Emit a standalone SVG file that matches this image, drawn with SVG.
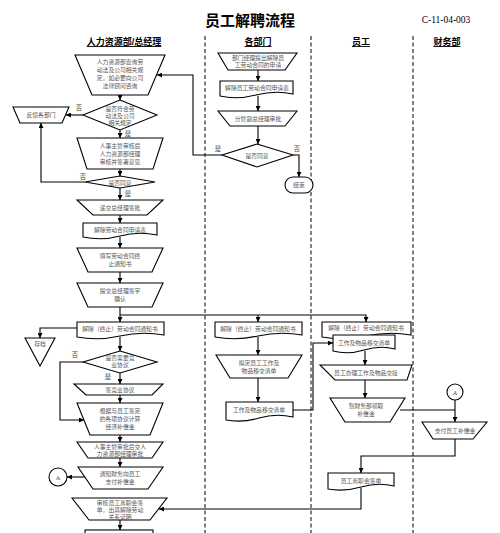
<svg xmlns="http://www.w3.org/2000/svg" width="500" height="533" viewBox="0 0 500 533">
<style>
.s{fill:#fff;stroke:#000;stroke-width:1.1}
.t{font-family:"Liberation Serif","Noto Sans CJK SC",serif;font-size:5.8px;fill:#555;text-anchor:middle}
.l{font-family:"Liberation Serif","Noto Sans CJK SC",serif;font-size:6.3px;fill:#444;text-anchor:middle}
.h{font-family:"Liberation Sans","Noto Sans CJK SC",sans-serif;font-size:9px;font-weight:bold;fill:#000;text-anchor:middle;text-decoration:underline}
.c{fill:none;stroke:#000;stroke-width:1.1}
.ca{fill:none;stroke:#000;stroke-width:1.1;marker-end:url(#ar)}
.d{stroke:#000;stroke-width:1;stroke-dasharray:4 2.5}
</style>
<defs>
<marker id="ar" viewBox="0 0 10 10" refX="10" refY="5" markerWidth="5" markerHeight="5" orient="auto" markerUnits="userSpaceOnUse"><path d="M0 0 L10 5 L0 10 z" fill="#000"/></marker>
</defs>
<rect width="500" height="533" fill="#fff"/>
<g id="header">
<text x="250" y="26" font-family="Liberation Serif,Noto Sans CJK SC,serif" font-size="15" font-weight="bold" text-anchor="middle">员工解聘流程</text>
<text x="446" y="23" font-family="Liberation Serif,serif" font-size="9.5" text-anchor="middle">C-11-04-003</text>
<text class="h" x="124" y="45">人力资源部/总经理</text>
<text class="h" x="258" y="45">各部门</text>
<text class="h" x="361" y="45">员工</text>
<text class="h" x="447" y="45">财务部</text>
<line class="d" x1="205" y1="36" x2="205" y2="533"/>
<line class="d" x1="311" y1="36" x2="311" y2="533"/>
<line class="d" x1="413" y1="36" x2="413" y2="533"/>
</g>
<g id="n1"><path class="s" d="M75 55 H165 L148 95 H92 Z"/><text class="t" x="120" y="64">人力资源部查询劳</text><text class="t" x="120" y="72">动法及公司相关规</text><text class="t" x="120" y="80">定，如必要向公司</text><text class="t" x="120" y="88">法律顾问咨询</text></g>
<g id="n2"><path class="s" d="M120 100 L157 115 L120 130 L83 115 Z"/><text class="t" x="120" y="111">是否符合劳</text><text class="t" x="120" y="118">动法及公司</text><text class="t" x="120" y="125">相关规定</text></g>
<g id="n3"><path class="s" d="M13 107 H69 L62 123 H20 Z"/><text class="t" x="41" y="117">反馈各部门</text></g>
<g id="n4"><path class="s" d="M77 138 H163 L153 169 H87 Z"/><text class="t" x="120" y="148">人事主管审核后</text><text class="t" x="120" y="156">人力资源部经理</text><text class="t" x="120" y="164">审核并签署意见</text></g>
<g id="n5"><path class="s" d="M120 176 L155 182 L120 188 L85 182 Z"/><text class="t" x="120" y="184.5">是否同意</text></g>
<g id="n6"><path class="s" d="M77 200 H163 L147 215 H93 Z"/><text class="t" x="120" y="210">递交总经理签批</text></g>
<g id="n7"><path class="s" d="M83 223 H157 V235 Q138 231 120 236 T83 237 Z"/><text class="t" x="120" y="232">解除劳动合同申请表</text></g>
<g id="n8"><path class="s" d="M77 248 H163 L152 272 H88 Z"/><text class="t" x="120" y="258">填写劳动合同终</text><text class="t" x="120" y="266">止通知书</text></g>
<g id="n9"><path class="s" d="M77 283 H163 L152 307 H88 Z"/><text class="t" x="120" y="293">提交总经理签字</text><text class="t" x="120" y="301">确认</text></g>
<g id="n10"><path class="s" d="M77 322 H164 V335 Q142 331 120 336 T77 337 Z"/><text class="t" x="120" y="331">解除（终止）劳动合同通知书</text></g>
<g id="n11"><path class="s" d="M25 338 H55 L40 366 Z"/><text class="t" x="40" y="346">存档</text></g>
<g id="n12"><path class="s" d="M120 351 L157 362 L120 373 L83 362 Z"/><text class="t" x="120" y="360">是否需要竞</text><text class="t" x="120" y="367">业协议</text></g>
<g id="n13"><path class="s" d="M74 384 H163 L152 395 H86 Z"/><text class="t" x="120" y="392">签竞业协议</text></g>
<g id="n14"><path class="s" d="M77 403 H163 L150 435 H90 Z"/><text class="t" x="120" y="413">根据与员工签定</text><text class="t" x="120" y="421">的各项协议计算</text><text class="t" x="120" y="429">经济补偿金</text></g>
<g id="n15"><path class="s" d="M77 442 H163 L152 458 H88 Z"/><text class="t" x="120" y="448.5">人事主管审批后交人</text><text class="t" x="120" y="455.5">力资源部经理审批</text></g>
<g id="n16"><path class="s" d="M78 467 H163 L148 489 H93 Z"/><text class="t" x="120" y="476">通知财务向员工</text><text class="t" x="120" y="484">支付补偿金</text></g>
<g id="n17"><circle class="s" cx="58" cy="477" r="9"/><text class="l" x="58" y="479.5">A</text></g>
<g id="n18"><path class="s" d="M72 498 H167 L150 520 H89 Z"/><text class="t" x="120" y="505">审核员工离职会签</text><text class="t" x="120" y="512">单，出具解除劳动</text><text class="t" x="120" y="519">关系证明</text></g>
<g id="n19"><rect class="s" x="85" y="530" width="68" height="12"/></g>
<g id="m1"><path class="s" d="M218 53 H297 L285 70 H228 Z"/><text class="t" x="258" y="60">部门经理提出解除员</text><text class="t" x="258" y="67">工劳动合同的申请</text></g>
<g id="m2"><path class="s" d="M220 81 H293 V94 Q275 90 256 95 T220 96 Z"/><text class="t" x="257" y="90">解除员工劳动合同申请表</text></g>
<g id="m3"><path class="s" d="M218 111 H297 L285 126 H230 Z"/><text class="t" x="258" y="121">分管副总经理审批</text></g>
<g id="m4"><path class="s" d="M257 144 L293 155 L257 167 L222 155 Z"/><text class="t" x="257" y="157.5">是否同意</text></g>
<g id="m5"><rect class="s" x="285" y="177" width="28" height="16" rx="8"/><text class="t" x="299" y="187">结束</text></g>
<g id="m6"><path class="s" d="M215 322 H302 V335 Q280 331 258 336 T215 337 Z"/><text class="t" x="258" y="331">解除（终止）劳动合同通知书</text></g>
<g id="m7"><path class="s" d="M216 355 H302 L288 378 H230 Z"/><text class="t" x="259" y="365">拟定员工工作及</text><text class="t" x="259" y="373">物品移交清单</text></g>
<g id="m8"><path class="s" d="M226 402 H293 V417 Q276 413 259 418 T226 420 Z"/><text class="t" x="259" y="412">工作及物品移交清单</text></g>
<g id="e1"><path class="s" d="M322 322 H411 V335 Q389 331 366 336 T322 337 Z"/><text class="t" x="366" y="330">解除（终止）劳动合同通知书</text></g>
<g id="e2"><path class="s" d="M333 335 H395 V349 Q380 345 364 350 T333 351 Z"/><text class="t" x="364" y="345">工作及物品移交清单</text></g>
<g id="e3"><path class="s" d="M320 365 H412 L407 380 H335 Z"/><text class="t" x="366" y="375">员工办理工作及物品交接</text></g>
<g id="e4"><path class="s" d="M330 398 H405 L390 422 H345 Z"/><text class="t" x="366" y="408">到财务部领取</text><text class="t" x="366" y="416">补偿金</text></g>
<g id="e5"><path class="s" d="M328 473 H394 V486 Q378 482 361 487 T328 489 Z"/><text class="t" x="361" y="483">员工离职会签单</text></g>
<g id="f1"><circle class="s" cx="455" cy="392" r="8"/><text class="l" x="455" y="394.5">A</text></g>
<g id="f2"><path class="s" d="M422 422 H487 L473 439 H433 Z"/><text class="t" x="455" y="433">支付员工补偿金</text></g>
<g id="connectors">
<path class="ca" d="M120 95 V100"/>
<path class="ca" d="M83 115 H66"/>
<path class="ca" d="M120 130 V138"/>
<path class="ca" d="M120 169 V176"/>
<path class="ca" d="M85 182 H41 V123"/>
<path class="ca" d="M120 188 V200"/>
<path class="ca" d="M120 215 V223"/>
<path class="ca" d="M120 237 V248"/>
<path class="ca" d="M120 272 V283"/>
<path class="ca" d="M120 307 V322"/>
<path class="ca" d="M120 315 H366 V322"/>
<path class="ca" d="M258 315 V322"/>
<path class="ca" d="M77 328 H40 V338"/>
<path class="ca" d="M120 337 V351"/>
<path class="ca" d="M83 362 H60 V420 H84"/>
<path class="ca" d="M120 373 V384"/>
<path class="ca" d="M120 395 V403"/>
<path class="ca" d="M120 435 V442"/>
<path class="ca" d="M120 458 V467"/>
<path class="ca" d="M85 477 H67"/>
<path class="ca" d="M120 520 V530"/>
<path class="ca" d="M258 70 V81"/>
<path class="ca" d="M258 96 V111"/>
<path class="ca" d="M258 126 V144"/>
<path class="ca" d="M222 155 H193 V75 H157"/>
<path class="ca" d="M293 155 H299 V177"/>
<path class="ca" d="M258 337 V355"/>
<path class="ca" d="M258 378 V402"/>
<path class="ca" d="M293 410 H313 V343 H333"/>
<path class="ca" d="M365 351 V365"/>
<path class="ca" d="M365 380 V398"/>
<path class="c" d="M400 410 H455"/>
<path class="ca" d="M455 400 V422"/>
<path class="ca" d="M455 439 V456 H361 V473"/>
<path class="ca" d="M361 488 V509 H159"/>
<text class="l" x="79" y="110">否</text>
<text class="l" x="128" y="136">是</text>
<text class="l" x="83" y="179">否</text>
<text class="l" x="128" y="196">是</text>
<text class="l" x="75" y="357">否</text>
<text class="l" x="108" y="379">是</text>
<text class="l" x="218" y="151">是</text>
<text class="l" x="297" y="151">否</text>
</g>
</svg>
